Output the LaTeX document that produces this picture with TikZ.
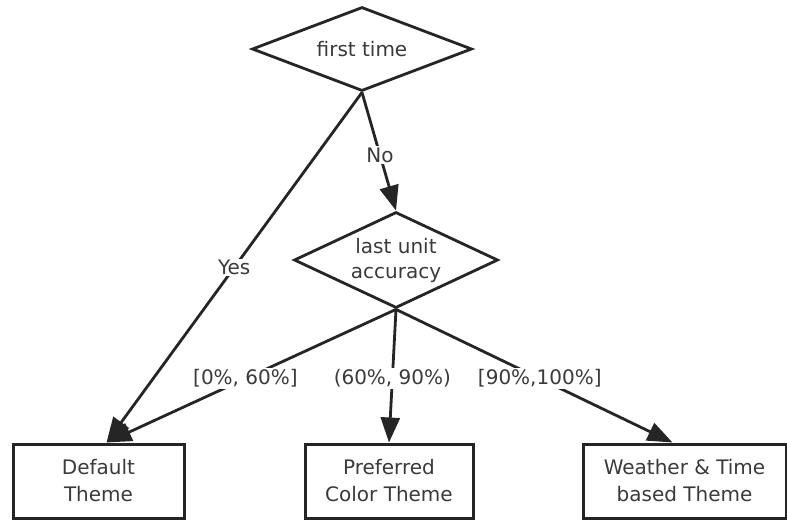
\documentclass[tikz,border=0pt]{standalone}
\usepackage{fontspec}
\setmainfont{DejaVu Sans}
\usetikzlibrary{shapes.geometric,arrows.meta,calc}
\definecolor{ink}{HTML}{252525}
\definecolor{txt}{HTML}{3A3A3A}
\begin{document}
\begin{tikzpicture}[x=1pt,y=-1pt,
  every node/.style={font=\fontsize{20}{27}\selectfont, text=txt},
  decision/.style={diamond, draw=ink, line width=2.8pt, inner sep=0pt, align=center},
  themebox/.style={rectangle, draw=ink, line width=3pt, inner sep=0pt, align=center, minimum height=74pt},
  conn/.style={draw=ink, line width=2.8pt, -{Triangle[length=25pt,width=19pt]}},
  lbl/.style={fill=white, inner sep=1.5pt, pos=0.52}]
\useasboundingbox (0,0) rectangle (787,520);
\node[decision, aspect=2.6, minimum width=220pt, minimum height=84pt] (d1) at (362,49) {first time};
\node[decision, aspect=2.3, minimum width=204pt, minimum height=96pt] (d2) at (396,260) {last unit\\[-2pt]accuracy};
\node[themebox, minimum width=171pt] (b1) at (98.5,481) {Default\\Theme};
\node[themebox, minimum width=168pt] (b2) at (389,481) {Preferred\\Color Theme};
\node[themebox, minimum width=203pt] (b3) at (684.5,481) {Weather \& Time\\based Theme};
\coordinate (b1in) at ([xshift=8pt]b1.north);
\coordinate (b3in) at ([xshift=-12pt]b3.north);
\draw[conn] (d1.south) -- node[lbl, pos=0.5] {Yes} (b1in);
\draw[conn] (d1.south) -- node[lbl, pos=0.53] {No} (d2.north);
\draw[conn] (d2.south) -- node[lbl] {[0\%, 60\%]} (b1in);
\draw[conn] (d2.south) -- node[lbl] {(60\%, 90\%)} (b2.north);
\draw[conn] (d2.south) -- node[lbl] {[90\%,100\%]} (b3in);
\end{tikzpicture}
\end{document}
